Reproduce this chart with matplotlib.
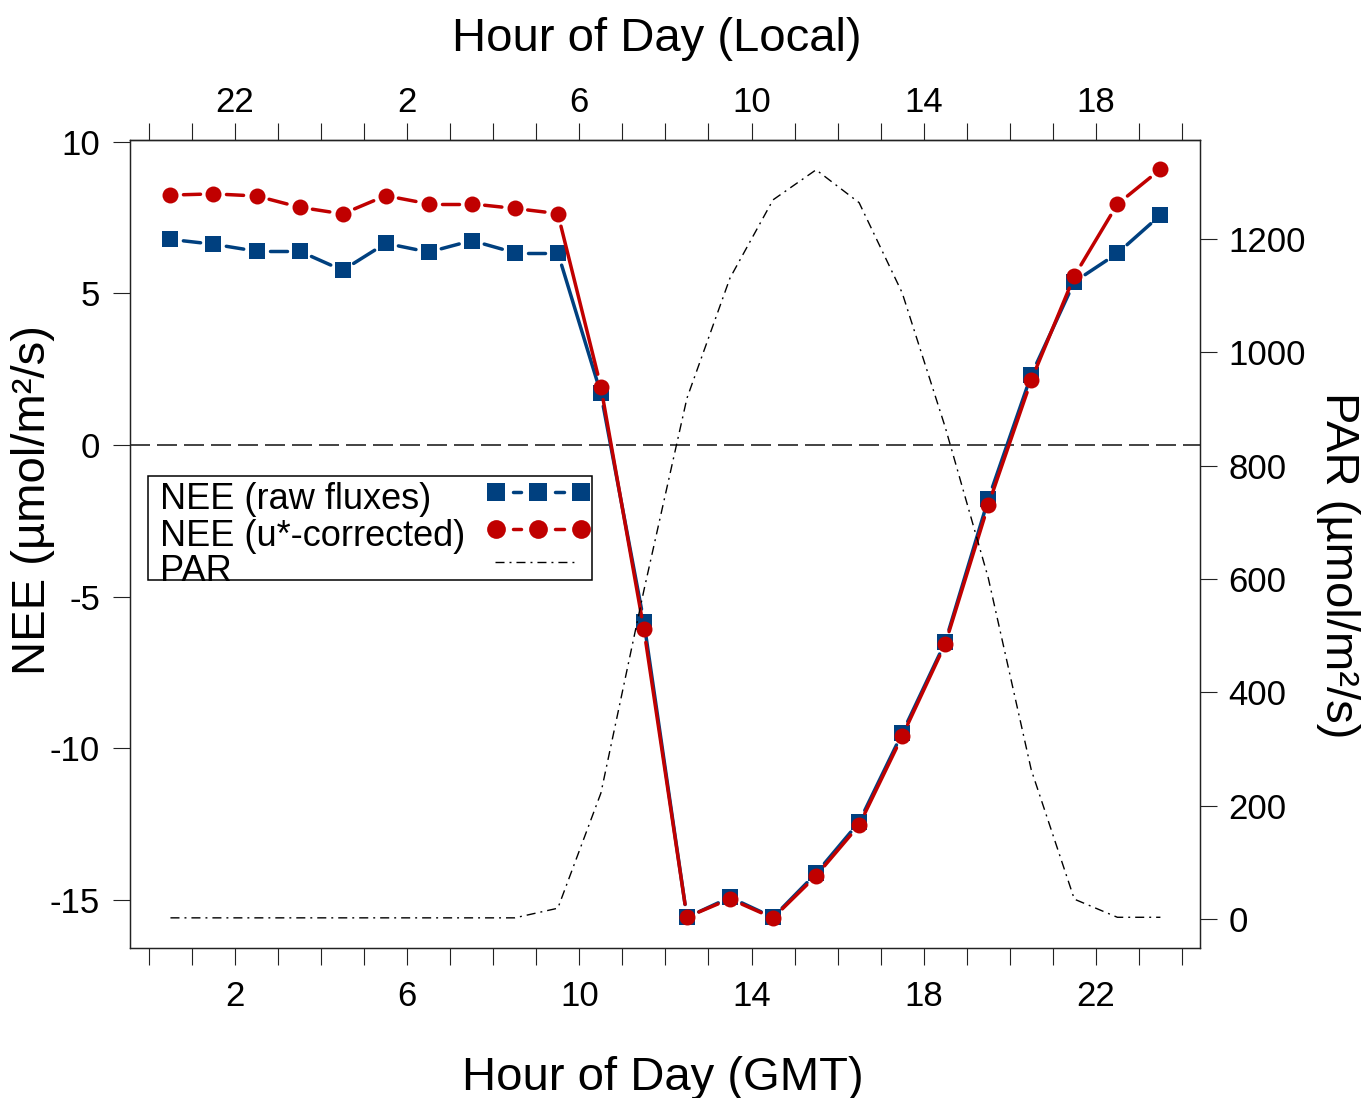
import numpy as np
import matplotlib
matplotlib.use('Agg')
import matplotlib.pyplot as plt
from matplotlib.lines import Line2D
from matplotlib.patches import Rectangle

plt.rcParams['font.family'] = ['Liberation Sans', 'DejaVu Sans']
plt.rcParams['axes.unicode_minus'] = False

# half-hour bin centres (GMT)
hours = np.arange(0.5, 24, 1.0)

nee_raw = [6.78, 6.62, 6.39, 6.39, 5.76, 6.65, 6.36, 6.74, 6.34, 6.34,
           1.70, -5.83, -15.57, -14.91, -15.57, -14.12, -12.43, -9.50,
           -6.50, -1.79, 2.31, 5.38, 6.32, 7.58]
nee_ustar = [8.24, 8.28, 8.21, 7.84, 7.62, 8.22, 7.95, 7.95, 7.80, 7.63,
             1.92, -6.08, -15.56, -14.96, -15.59, -14.20, -12.53, -9.60,
             -6.56, -1.98, 2.14, 5.57, 7.94, 9.09]
par = [2, 2, 2, 2, 2, 2, 2, 2, 2, 19,
       222, 580, 919, 1131, 1269, 1322, 1264, 1105,
       868, 602, 263, 35, 3, 3]

gmt_ticks = list(range(25))
label_hours = [2, 6, 10, 14, 18, 22]
nee_ticks = [-15, -10, -5, 0, 5, 10]
par_ticks = [0, 200, 400, 600, 800, 1000, 1200]

blue = '#00407f'
red = '#c00000'

W, H = 1366, 1098
fig = plt.figure(figsize=(W / 100, H / 100), dpi=100)


def fx(x):
    return x / W


def fy(y):
    return 1 - y / H


ax = fig.add_axes([fx(130), fy(948), (1200 - 130) / W, (948 - 140) / H])
ax.set_xlim(-0.44, 24.42)
ax.set_ylim(-16.58, 10.056)

ax2 = ax.twinx()
ax2.set_ylim(-51.2, 1374.6)


def gapped(a, xs, ys, gap, **kw):
    # R type="b": line segments stop short of each point
    pts = a.transData.transform(np.column_stack([xs, ys]))
    inv = a.transData.inverted()
    for p, q in zip(pts[:-1], pts[1:]):
        d = q - p
        L = np.hypot(*d)
        if L <= 2 * gap:
            continue
        u = d / L
        s, e = inv.transform([p + u * gap, q - u * gap])
        a.plot([s[0], e[0]], [s[1], e[1]], **kw)


ax.axhline(0, color='#222222', lw=1.2, linestyle=(0, (12, 4.2)), zorder=1)

gapped(ax, hours, nee_raw, 13, color=blue, lw=2.5, solid_capstyle='round', zorder=2)
ax.plot(hours, nee_raw, 's', color=blue, ms=11.3, mew=0, zorder=3)
gapped(ax, hours, nee_ustar, 13, color=red, lw=2.5, solid_capstyle='round', zorder=4)
ax.plot(hours, nee_ustar, 'o', color=red, ms=11.5, mew=0, zorder=5)

dashdot = (0, (6.5, 3.6, 1.4, 3.6))
ax2.plot(hours, par, color='black', lw=1.0, linestyle=dashdot)

# axes styling
ax.set_xticks(gmt_ticks)
ax.set_xticklabels([str(h) if h in label_hours else '' for h in gmt_ticks])
ax.set_yticks(nee_ticks)
ax.set_yticklabels([str(v) for v in nee_ticks])
ax.tick_params(axis='x', length=12, width=0.8, labelsize=25, pad=11, color='#222222')
ax.tick_params(axis='y', length=12, width=0.8, labelsize=25, pad=9.5, color='#222222')

ax2.set_yticks(par_ticks)
ax2.set_yticklabels([str(v) for v in par_ticks])
ax2.tick_params(axis='y', length=12, width=0.8, labelsize=25, pad=8.5, color='#222222')

top = ax.secondary_xaxis('top')
top.set_xticks(gmt_ticks)
top.set_xticklabels([str((h - 4) % 24) if h in label_hours else '' for h in gmt_ticks])
top.tick_params(length=12, width=0.8, labelsize=25, pad=3, color='#222222')

for a in (ax, ax2):
    for s in a.spines.values():
        s.set_linewidth(0.9)
        s.set_color('#222222')
for s in top.spines.values():
    s.set_linewidth(0.9)
    s.set_color('#222222')

# axis titles
fig.text(fx(663), fy(1090), 'Hour of Day (GMT)', fontsize=34, ha='center', va='baseline')
fig.text(fx(657), fy(51), 'Hour of Day (Local)', fontsize=34, ha='center', va='baseline')
fig.text(fx(33), fy(500), 'NEE (µmol/m²/s)', fontsize=34, rotation=90, ha='center', va='center')
fig.text(fx(1338), fy(565), 'PAR (µmol/m²/s)', fontsize=34, rotation=270, ha='center', va='center')

# legend (drawn by hand to mimic the R legend box)
fig.add_artist(Rectangle((fx(148), fy(580)), (592 - 148) / W, (580 - 476) / H,
                         transform=fig.transFigure, fill=False, ec='black', lw=1.1))
labels = ['NEE (raw fluxes)', 'NEE (u*-corrected)', 'PAR']
bases = [509, 546, 581]
for lab, b in zip(labels, bases):
    fig.text(fx(160), fy(b), lab, fontsize=26, va='baseline', ha='left')

leg_x = np.array([496, 538, 581])
for yy, mk, col in [(492, 's', blue), (529, 'o', red)]:
    for x0, x1 in zip(leg_x[:-1], leg_x[1:]):
        fig.add_artist(Line2D([fx(x0 + 17), fx(x1 - 17)], [fy(yy), fy(yy)],
                              transform=fig.transFigure, color=col, lw=2.5,
                              solid_capstyle='round'))
    fig.add_artist(Line2D(fx(leg_x), fy(np.full(3, yy)), transform=fig.transFigure,
                          ls='none', marker=mk, ms=13.5, mew=0, color=col))
fig.add_artist(Line2D([fx(495), fx(578)], [fy(562), fy(562)], transform=fig.transFigure,
                      color='black', lw=1.0, linestyle=dashdot))

fig.savefig('out.png', dpi=100)
